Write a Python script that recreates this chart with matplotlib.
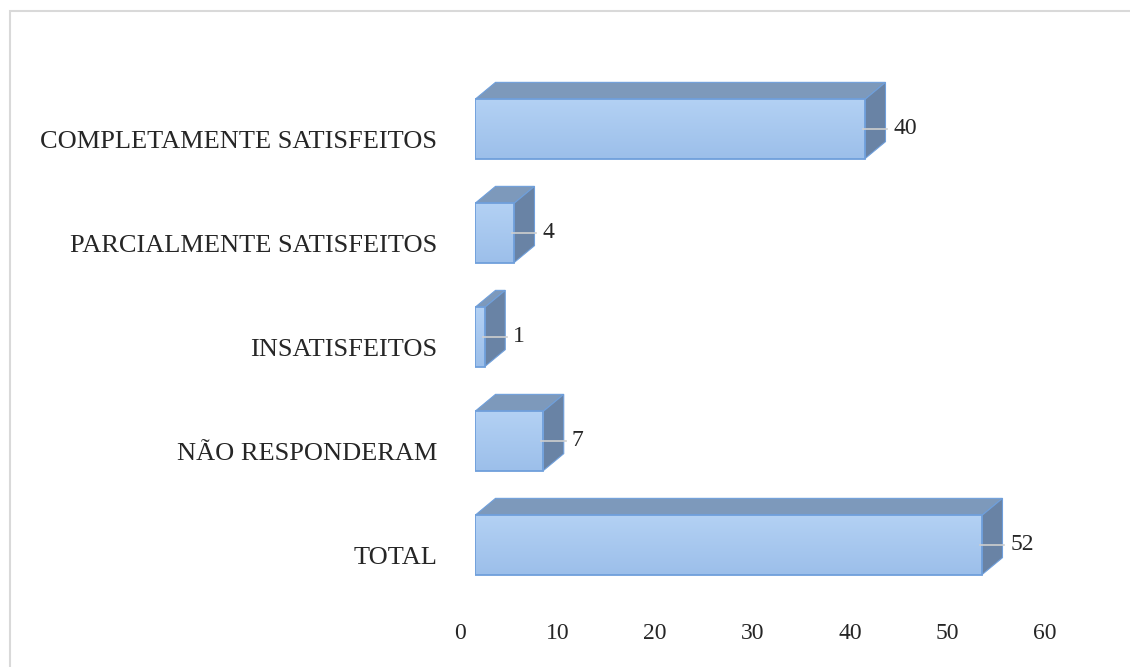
import matplotlib
matplotlib.use("Agg")
import matplotlib.pyplot as plt
import numpy as np
from matplotlib.patches import Polygon, Rectangle
from matplotlib.transforms import ScaledTranslation

categories = ["TOTAL", "NÃO RESPONDERAM", "INSATISFEITOS",
              "PARCIALMENTE SATISFEITOS", "COMPLETAMENTE SATISFEITOS"]
values = [52, 7, 1, 4, 40]
xticks = [0, 10, 20, 30, 40, 50, 60]

FRONT_TOP = "#b3d1f4"
FRONT_BOT = "#9cbfea"
TOP_FACE = "#7d99bb"
SIDE_FACE = "#6983a5"
EDGE = "#6f9fdb"
BAR_H = 0.57

plt.rcParams["font.family"] = ["Liberation Serif", "DejaVu Serif"]
plt.rcParams["font.size"] = 17

W, H = 1130, 667
fig = plt.figure(figsize=(W / 100, H / 100), dpi=100)
ax = fig.add_axes([475 / W, 70 / H, 585 / W, 520 / H])
ax.set_xlim(0, 60)
ax.set_ylim(-0.5, 4.5)

# depth offset of the 3d boxes, given in pixels
dx = 20.5 * 60 / 585
dy = 17 * 5 / 520

grad = np.linspace(0, 1, 64).reshape(-1, 1)
cmap = matplotlib.colors.LinearSegmentedColormap.from_list("front", [FRONT_BOT, FRONT_TOP])

for i, v in enumerate(values):
    y0, y1 = i - BAR_H / 2, i + BAR_H / 2
    top = Polygon([(0, y1), (dx, y1 + dy), (v + dx, y1 + dy), (v, y1)],
                  closed=True, facecolor=TOP_FACE, edgecolor=EDGE, lw=0.8, zorder=2)
    side = Polygon([(v, y0), (v, y1), (v + dx, y1 + dy), (v + dx, y0 + dy)],
                   closed=True, facecolor=SIDE_FACE, edgecolor=EDGE, lw=0.8, zorder=2)
    ax.add_patch(top)
    ax.add_patch(side)
    ax.imshow(grad, extent=(0, v, y0, y1), origin="lower", cmap=cmap,
              aspect="auto", zorder=3, interpolation="bicubic")
    ax.add_patch(Rectangle((0, y0), v, BAR_H, facecolor="none",
                           edgecolor=EDGE, lw=1.3, zorder=4))
    # leader line and value label
    ax.plot([v - 0.2, v + dx + 0.2], [i, i], color="#cfcfcf", lw=1.2, zorder=5)
    ax.text(v + dx + 0.8, i, str(v), ha="left", va="center", fontsize=17,
            color="#262626", zorder=5)

ax.set_xlim(0, 60)
ax.set_ylim(-0.5, 4.5)
ax.set_xticks(xticks)
ax.set_yticks(range(len(categories)))
ax.set_yticklabels(categories, fontsize=19)
ax.tick_params(axis="both", length=0, colors="#262626")
ax.tick_params(axis="y", pad=27)
ax.tick_params(axis="x", pad=19)
for s in ax.spines.values():
    s.set_visible(False)

for lab in ax.get_xticklabels():
    lab.set_transform(lab.get_transform() + ScaledTranslation(-0.15, 0, fig.dpi_scale_trans))
for lab in ax.get_yticklabels():
    lab.set_transform(lab.get_transform() + ScaledTranslation(0, -0.10, fig.dpi_scale_trans))

# chart area frame
fig.add_artist(Rectangle((10 / W, -0.05), 1.2, (H - 11) / H + 0.05,
                         transform=fig.transFigure, facecolor="none",
                         edgecolor="#d9d9d9", lw=1.5))

fig.savefig("out.png", dpi=100)
